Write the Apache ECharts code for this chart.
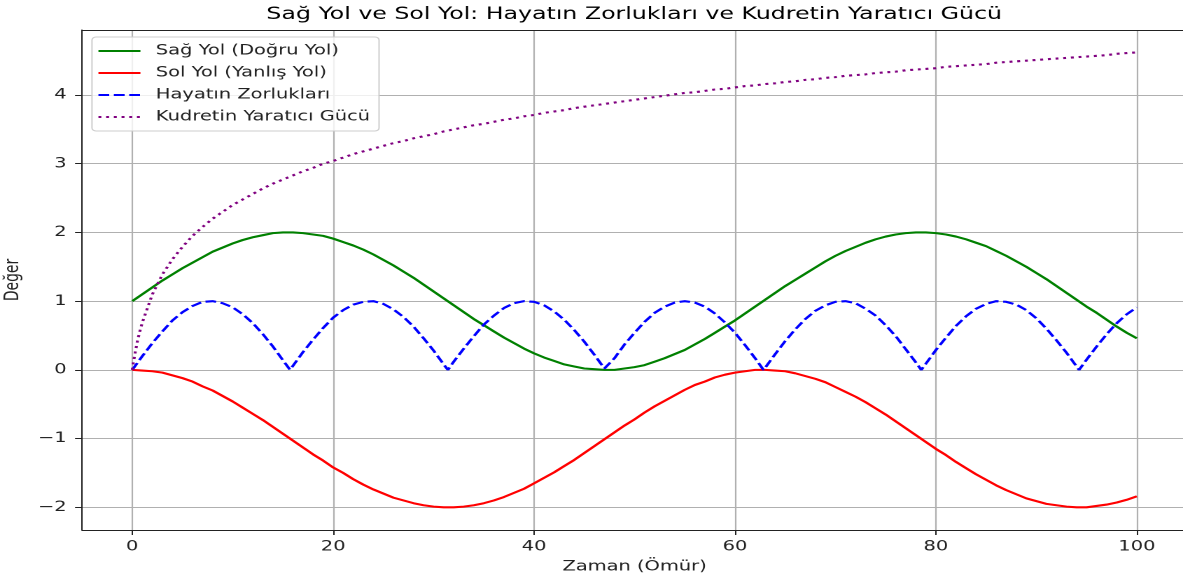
<!DOCTYPE html>
<html>
<head>
<meta charset="utf-8">
<script src="https://cdn.jsdelivr.net/npm/echarts@6/dist/echarts.min.js"></script>
<style>
  html, body { margin: 0; padding: 0; background: #fff; overflow: hidden; width: 1183px; height: 582px; }
  /* the reference figure is stretched horizontally; draw narrow and stretch by 1.4 */
  #chart { width: 880px; height: 582px; transform: scaleX(1.4); transform-origin: 0 0; }
</style>
</head>
<body>
<div id="chart"></div>
<script>
// zaman ekseni (ömür)
const zaman = [0,1,2,3,4,5,6,7,8,9,10,11,12,13,14,15,16,17,18,19,20,21,22,23,24,25,26,27,28,29,30,
  31,32,33,34,35,36,37,38,39,40,41,42,43,44,45,46,47,48,49,50,51,52,53,54,55,56,57,58,59,60,
  61,62,63,64,65,66,67,68,69,70,71,72,73,74,75,76,77,78,79,80,81,82,83,84,85,86,87,88,89,90,
  91,92,93,94,95,96,97,98,99,100];

const sagYol = [1.00,1.10,1.20,1.30,1.39,1.48,1.56,1.64,1.72,1.78,1.84,1.89,1.93,1.96,1.99,2.00,2.00,1.99,1.97,1.95,
  1.91,1.86,1.81,1.75,1.68,1.60,1.52,1.43,1.34,1.24,1.14,1.04,0.94,0.84,0.74,0.65,0.56,0.47,0.39,0.31,
  0.24,0.18,0.13,0.08,0.05,0.02,0.01,0.00,0.00,0.02,0.04,0.07,0.12,0.17,0.23,0.29,0.37,0.45,0.54,0.63,
  0.72,0.82,0.92,1.02,1.12,1.22,1.31,1.40,1.49,1.58,1.66,1.73,1.79,1.85,1.90,1.94,1.97,1.99,2.00,2.00,
  1.99,1.97,1.94,1.90,1.85,1.80,1.73,1.66,1.58,1.50,1.41,1.32,1.22,1.12,1.02,0.92,0.83,0.73,0.63,0.54,0.46];

const solYol = [0.00,-0.01,-0.02,-0.04,-0.08,-0.12,-0.17,-0.24,-0.30,-0.38,-0.46,-0.55,-0.64,-0.73,-0.83,-0.93,-1.03,-1.13,-1.23,-1.32,
  -1.42,-1.50,-1.59,-1.67,-1.74,-1.80,-1.86,-1.90,-1.94,-1.97,-1.99,-2.00,-2.00,-1.99,-1.97,-1.94,-1.90,-1.85,-1.79,-1.73,
  -1.65,-1.57,-1.49,-1.40,-1.31,-1.21,-1.11,-1.01,-0.91,-0.81,-0.72,-0.62,-0.53,-0.45,-0.37,-0.29,-0.22,-0.17,-0.11,-0.07,
  -0.04,-0.02,0.00,0.00,-0.01,-0.02,-0.05,-0.09,-0.13,-0.18,-0.25,-0.32,-0.39,-0.47,-0.56,-0.65,-0.75,-0.85,-0.95,-1.05,
  -1.15,-1.24,-1.34,-1.43,-1.52,-1.60,-1.68,-1.75,-1.81,-1.87,-1.91,-1.95,-1.97,-1.99,-2.00,-2.00,-1.98,-1.96,-1.93,-1.89,-1.84];

const hayat = [0.00,0.20,0.39,0.56,0.72,0.84,0.93,0.99,1.00,0.97,0.91,0.81,0.68,0.52,0.34,0.14,0.06,0.26,0.44,0.61,
  0.76,0.87,0.95,0.99,1.00,0.96,0.88,0.77,0.63,0.46,0.28,0.08,0.12,0.31,0.49,0.66,0.79,0.90,0.97,1.00,
  0.99,0.94,0.85,0.73,0.58,0.41,0.22,0.02,0.17,0.37,0.54,0.70,0.83,0.92,0.98,1.00,0.98,0.92,0.82,0.69,
  0.54,0.36,0.17,0.03,0.23,0.42,0.59,0.74,0.86,0.94,0.99,1.00,0.97,0.89,0.79,0.65,0.49,0.30,0.11,0.09,
  0.29,0.47,0.64,0.78,0.89,0.96,1.00,0.99,0.95,0.87,0.75,0.60,0.43,0.25,0.05,0.15,0.34,0.52,0.68,0.81,0.91];
// zorlukların sıfıra indiği anlar
const hayatSifirZaman = [15.71, 31.42, 47.12, 62.83, 78.54, 94.25];

const kudret = [0.00,0.69,1.10,1.39,1.61,1.79,1.95,2.08,2.20,2.30,2.40,2.48,2.56,2.64,2.71,2.77,2.83,2.89,2.94,3.00,
  3.04,3.09,3.14,3.18,3.22,3.26,3.30,3.33,3.37,3.40,3.43,3.47,3.50,3.53,3.56,3.58,3.61,3.64,3.66,3.69,
  3.71,3.74,3.76,3.78,3.81,3.83,3.85,3.87,3.89,3.91,3.93,3.95,3.97,3.99,4.01,4.03,4.04,4.06,4.08,4.09,
  4.11,4.13,4.14,4.16,4.17,4.19,4.20,4.22,4.23,4.25,4.26,4.28,4.29,4.30,4.32,4.33,4.34,4.36,4.37,4.38,
  4.39,4.41,4.42,4.43,4.44,4.45,4.47,4.48,4.49,4.50,4.51,4.52,4.53,4.54,4.55,4.56,4.57,4.58,4.60,4.61,4.62];
// başlangıçtaki dik yükseliş
const kudretBasZaman = [0.1, 0.25, 0.5, 0.75];
const kudretBasDeger = [0.10, 0.22, 0.41, 0.56];

const xTicks = [0, 20, 40, 60, 80, 100];
const yTicks = [-2, -1, 0, 1, 2, 3, 4];

function pairs(xs, ys, extraX, extraY) {
  const out = xs.map((x, i) => [x, ys[i]]);
  (extraX || []).forEach((x, i) => out.push([x, extraY ? extraY[i] : 0]));
  return out.sort((a, b) => a[0] - b[0]);
}

const FONT = 'DejaVu Sans';
const minus = v => String(v).replace('-', '\u2212');

const chart = echarts.init(document.getElementById('chart'), null, { devicePixelRatio: 2 });
chart.setOption({
  animation: false,
  textStyle: { fontFamily: FONT },
  title: {
    text: 'Sağ Yol ve Sol Yol: Hayatın Zorlukları ve Kudretin Yaratıcı Gücü',
    left: 453, top: 6, padding: 0, textAlign: 'center',
    textStyle: { fontFamily: FONT, fontSize: 16.9, fontWeight: 'normal', color: '#000' }
  },
  grid: {
    left: 58.6, top: 30, width: 789.3, height: 500,
    outerBoundsMode: 'none', containLabel: false, show: false
  },
  legend: {
    orient: 'vertical', left: 65.7, top: 37, padding: [7, 6.4, 7, 3.6],
    itemWidth: 30, itemHeight: 14, itemGap: 8,
    itemStyle: { opacity: 0 },
    backgroundColor: 'rgba(255,255,255,0.8)', borderColor: '#cccccc', borderWidth: 1, borderRadius: 3,
    textStyle: { fontFamily: FONT, fontSize: 13.9, color: '#222', padding: [0, 0, 0, 6] },
    data: ['Sağ Yol (Doğru Yol)', 'Sol Yol (Yanlış Yol)', 'Hayatın Zorlukları', 'Kudretin Yaratıcı Gücü']
  },
  xAxis: [
    {
      type: 'value', min: -5, max: 105,
      name: 'Zaman (Ömür)', nameLocation: 'middle', nameGap: 30,
      nameTextStyle: { fontFamily: FONT, fontSize: 13.9, color: '#222' },
      axisLine: { show: true, onZero: false, lineStyle: { color: '#222', width: 1 } },
      axisTick: { show: true, length: 5, customValues: xTicks, lineStyle: { color: '#222' } },
      axisLabel: { customValues: xTicks, margin: 10, fontSize: 13.9, color: '#222', fontFamily: FONT, formatter: minus },
      splitLine: { show: true, lineStyle: { color: '#b0b0b0', width: 1.1 } }
    },
    {
      // top spine of the frame
      type: 'value', position: 'top', min: -5, max: 105,
      axisLine: { show: true, onZero: false, lineStyle: { color: '#222', width: 1 } },
      axisTick: { show: false }, axisLabel: { show: false }, splitLine: { show: false }
    }
  ],
  yAxis: {
    type: 'value', min: -2.33, max: 4.946, splitNumber: 7,
    name: 'Değer', nameLocation: 'middle', nameGap: 38, nameRotate: 90,
    nameTextStyle: { fontFamily: FONT, fontSize: 13.9, color: '#222' },
    axisLine: { show: true, onZero: false, lineStyle: { color: '#222', width: 1 } },
    axisTick: { show: true, length: 5, customValues: yTicks, lineStyle: { color: '#222' } },
    axisLabel: { customValues: yTicks, margin: 11, fontSize: 13.9, color: '#222', fontFamily: FONT, formatter: minus },
    splitLine: { show: true, lineStyle: { color: '#b0b0b0', width: 1.1 } }
  },
  series: [
    {
      name: 'Sağ Yol (Doğru Yol)', type: 'line', symbol: 'none',
      lineStyle: { color: '#008000', width: 2.1 }, itemStyle: { color: '#008000' },
      data: pairs(zaman, sagYol)
    },
    {
      name: 'Sol Yol (Yanlış Yol)', type: 'line', symbol: 'none',
      lineStyle: { color: '#ff0000', width: 2.1 }, itemStyle: { color: '#ff0000' },
      data: pairs(zaman, solYol)
    },
    {
      name: 'Hayatın Zorlukları', type: 'line', symbol: 'none',
      lineStyle: { color: '#0000ff', width: 2.1, type: [7.7, 3.3] }, itemStyle: { color: '#0000ff' },
      data: pairs(zaman, hayat, hayatSifirZaman)
    },
    {
      name: 'Kudretin Yaratıcı Gücü', type: 'line', symbol: 'none',
      lineStyle: { color: '#800080', width: 2.1, type: [2.1, 3.4] }, itemStyle: { color: '#800080' },
      data: pairs(zaman, kudret, kudretBasZaman, kudretBasDeger)
    }
  ]
});
</script>
</body>
</html>
